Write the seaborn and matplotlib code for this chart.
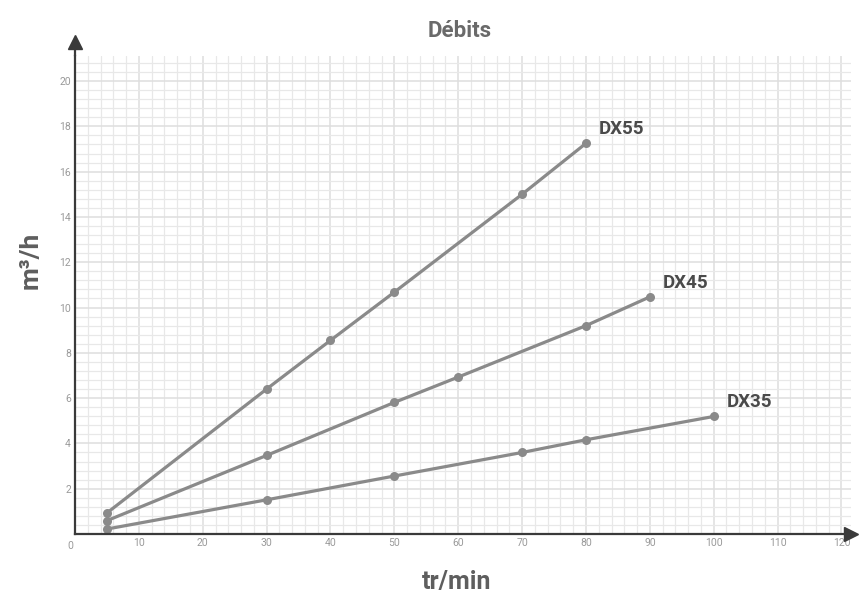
import numpy as np
import pandas as pd
import matplotlib
matplotlib.use("Agg")
import matplotlib.pyplot as plt
import seaborn as sns

sns.set_theme(style="white")
plt.rcParams["font.family"] = ["Roboto", "DejaVu Sans"]

# ---------------------------------------------------------------------------
# Data (débit in m³/h vs speed in tr/min)
# ---------------------------------------------------------------------------
dx35_rpm = [5, 30, 50, 70, 80, 100]
dx35_flow = [0.22, 1.51, 2.56, 3.60, 4.16, 5.19]

dx45_rpm = [5, 30, 50, 60, 80, 90]
dx45_flow = [0.59, 3.47, 5.81, 6.93, 9.20, 10.47]

dx55_rpm = [5, 30, 40, 50, 70, 80]
dx55_flow = [0.93, 6.40, 8.55, 10.68, 15.0, 17.25]

models = ["DX35", "DX45", "DX55"]
x_ticks = [0, 10, 20, 30, 40, 50, 60, 70, 80, 90, 100, 110, 120]
y_ticks = [2, 4, 6, 8, 10, 12, 14, 16, 18, 20]

df = pd.concat([
    pd.DataFrame({"rpm": dx35_rpm, "flow": dx35_flow, "model": "DX35"}),
    pd.DataFrame({"rpm": dx45_rpm, "flow": dx45_flow, "model": "DX45"}),
    pd.DataFrame({"rpm": dx55_rpm, "flow": dx55_flow, "model": "DX55"}),
], ignore_index=True)

LINE = "#8a8a8a"
AXIS = "#3a3a3a"
TXT = "#5e5e5e"

fig = plt.figure(figsize=(8.64, 5.97), dpi=100)
ax = fig.add_axes([0.0868, 0.1055, 0.8982, 0.8005])

# graph-paper grid: light minor lines, slightly stronger major ones
ax.set_xticks(np.arange(0, 121, 2), minor=True)
ax.set_yticks(np.arange(0, 21, 0.4), minor=True)
ax.grid(which="minor", color="#e8e8e8", linewidth=0.9)
ax.grid(which="major", color="#dedede", linewidth=1.1)
ax.set_axisbelow(True)

sns.lineplot(data=df, x="rpm", y="flow", hue="model", hue_order=models,
             palette=[LINE] * 3, marker="o", markersize=6.5, markeredgewidth=0,
             linewidth=2.3, legend=False, ax=ax)

ax.set_xlim(0, 121.5)
ax.set_ylim(0, 21.1)
ax.set_xticks(x_ticks)
ax.set_xticklabels([""] + [str(v) for v in x_ticks[1:]])
ax.set_yticks(y_ticks)
ax.tick_params(axis="both", which="both", length=0, labelsize=7.5, labelcolor="#9a9a9a", pad=3)
ax.text(-0.3, -0.3, "0", fontsize=7.5, color="#9a9a9a", ha="right", va="top")

for side in ["top", "right"]:
    ax.spines[side].set_visible(False)
for side in ["left", "bottom"]:
    ax.spines[side].set_color(AXIS)
    ax.spines[side].set_linewidth(1.6)

# arrow heads at the end of the axes
ax.plot([0], [1.03], marker="^", markersize=10, color=AXIS, transform=ax.transAxes, clip_on=False)
ax.plot([1.0], [0], marker=">", markersize=10, color=AXIS, transform=ax.transAxes, clip_on=False)
ax.plot([0, 0], [1.0, 1.02], color=AXIS, linewidth=1.6, transform=ax.transAxes, clip_on=False)

# curve labels
ax.text(dx55_rpm[-1] + 2.0, dx55_flow[-1] + 0.4, "DX55", fontsize=13.5, fontweight="bold", color="#4a4a4a")
ax.text(dx45_rpm[-1] + 2.0, dx45_flow[-1] + 0.4, "DX45", fontsize=13.5, fontweight="bold", color="#4a4a4a")
ax.text(dx35_rpm[-1] + 2.0, dx35_flow[-1] + 0.4, "DX35", fontsize=13.5, fontweight="bold", color="#4a4a4a")

ax.set_xlabel("tr/min", fontsize=18, fontweight="bold", color=TXT)
ax.set_ylabel("m³/h", fontsize=19, fontweight="bold", color=TXT)
ax.xaxis.set_label_coords(0.492, -0.075)
ax.yaxis.set_label_coords(-0.042, 0.573)
fig.text(0.532, 0.948, "Débits", fontsize=16, fontweight="bold", color="#6a6a6a", ha="center", va="center")

fig.savefig("out.png", dpi=100)
plt.close(fig)
